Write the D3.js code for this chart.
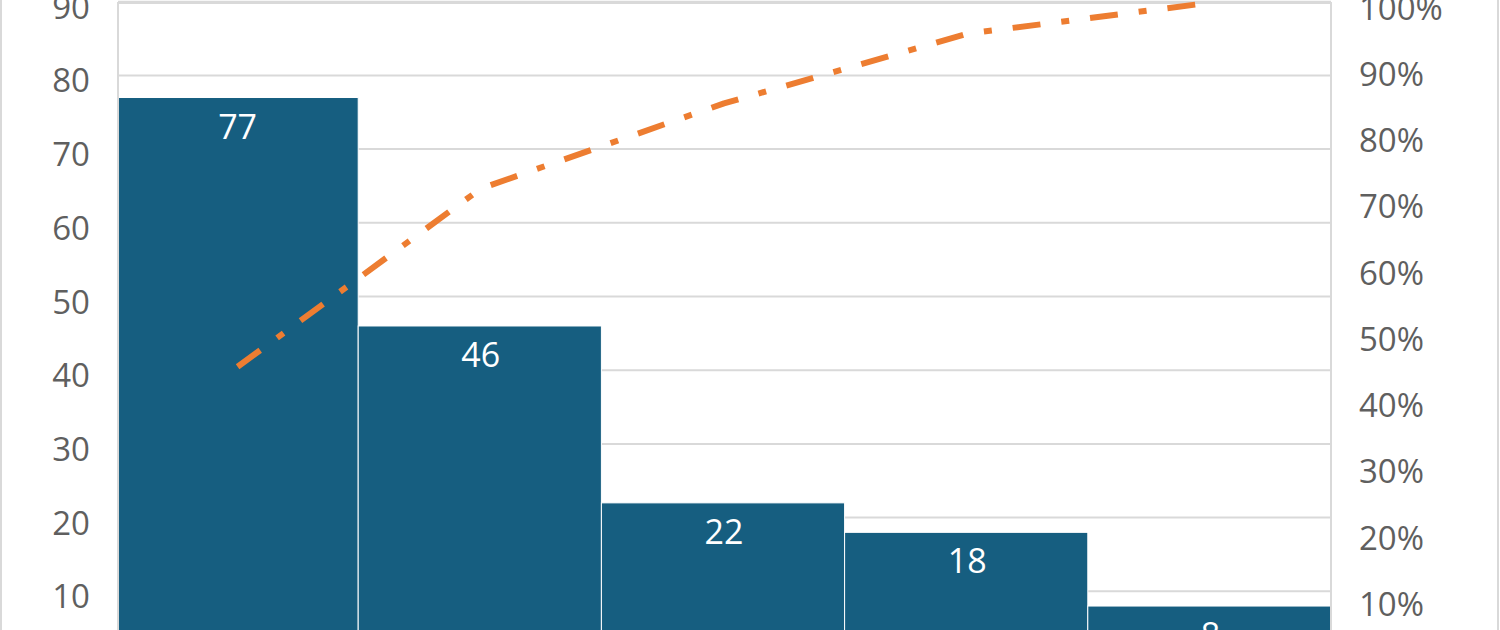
<!DOCTYPE html>
<html>
<head>
<meta charset="utf-8">
<script src="https://cdn.jsdelivr.net/npm/d3@7"></script>
<style>
  html, body { margin: 0; padding: 0; background: #fff; }
  svg { display: block; }
  text { font-family: "Open Sans", "Segoe UI", sans-serif; }
</style>
</head>
<body>
<svg id="chart" width="1500" height="630"></svg>
<script>
// ---- data ----
const categories = ["A", "B", "C", "D", "E"];
const counts = [77, 46, 22, 18, 8];
const leftTicks = [10, 20, 30, 40, 50, 60, 70, 80, 90];
const rightTicks = [0.1, 0.2, 0.3, 0.4, 0.5, 0.6, 0.7, 0.8, 0.9, 1.0];

const total = d3.sum(counts);
let run = 0;
const cumulative = counts.map(v => (run += v) / total);

// ---- layout ----
const svg = d3.select("#chart");
const plotLeft = 118, plotRight = 1331, plotTop = 2, plotBottom = 665;

const x = d3.scaleBand().domain(categories).range([115, 1331]).padding(0);
const yL = d3.scaleLinear().domain([0, 90]).range([plotBottom, 1.7]);
const yR = d3.scaleLinear().domain([0, 1]).range([plotBottom, 2.7]);

// chart area border
svg.append("rect").attr("x", 1).attr("y", -60).attr("width", 1497).attr("height", 800)
  .attr("fill", "none").attr("stroke", "#d9d9d9").attr("stroke-width", 2);

// gridlines
svg.append("g").selectAll("line").data(leftTicks).join("line")
  .attr("x1", plotLeft).attr("x2", plotRight)
  .attr("y1", d => yL(d)).attr("y2", d => yL(d))
  .attr("stroke", "#d9d9d9").attr("stroke-width", 2);

// clip
svg.append("clipPath").attr("id", "plotclip").append("rect")
  .attr("x", plotLeft + 1).attr("y", plotTop).attr("width", plotRight - plotLeft - 2).attr("height", plotBottom - plotTop + 50);

// bars
svg.append("g").attr("clip-path", "url(#plotclip)").selectAll("rect").data(counts).join("rect")
  .attr("x", (d, i) => x(categories[i]))
  .attr("y", d => yL(d))
  .attr("width", x.bandwidth())
  .attr("height", d => plotBottom - yL(d))
  .attr("fill", "#165E80")
  .attr("stroke", "#ffffff").attr("stroke-width", 1);

// plot border
svg.append("line").attr("x1", plotLeft).attr("x2", plotLeft).attr("y1", plotTop).attr("y2", 640)
  .attr("stroke", "#d9d9d9").attr("stroke-width", 2);
svg.append("line").attr("x1", plotRight).attr("x2", plotRight).attr("y1", plotTop).attr("y2", 640)
  .attr("stroke", "#d9d9d9").attr("stroke-width", 2);
svg.append("line").attr("x1", plotLeft).attr("x2", plotRight).attr("y1", plotTop + 1).attr("y2", plotTop + 1)
  .attr("stroke", "#d9d9d9").attr("stroke-width", 2);

// data labels
svg.append("g").selectAll("text").data(counts).join("text")
  .attr("x", (d, i) => x(categories[i]) + x.bandwidth() / 2 + 1)
  .attr("y", d => yL(d) + 41)
  .attr("text-anchor", "middle")
  .attr("font-size", 34)
  .attr("fill", "#ffffff")
  .text(d => d);

// cumulative line
const line = d3.line()
  .x((d, i) => x(categories[i]) + x.bandwidth() / 2 + 1)
  .y(d => yR(d));
svg.append("path").datum(cumulative)
  .attr("d", line)
  .attr("fill", "none")
  .attr("stroke", "#ED7D31")
  .attr("stroke-width", 6)
  .attr("stroke-dasharray", "28 21 8 21")
  .attr("stroke-linejoin", "round");

// left axis labels
svg.append("g").selectAll("text").data(leftTicks).join("text")
  .attr("x", 90)
  .attr("y", d => yL(d) + 17)
  .attr("text-anchor", "end")
  .attr("font-size", 33)
  .attr("fill", "#5f5f5f")
  .text(d => d);

// right axis labels
svg.append("g").selectAll("text").data(rightTicks).join("text")
  .attr("x", 1359)
  .attr("y", d => yR(d) + 17)
  .attr("text-anchor", "start")
  .attr("font-size", 33)
  .attr("fill", "#5f5f5f")
  .text(d => d3.format(".0%")(d));
</script>
</body>
</html>
